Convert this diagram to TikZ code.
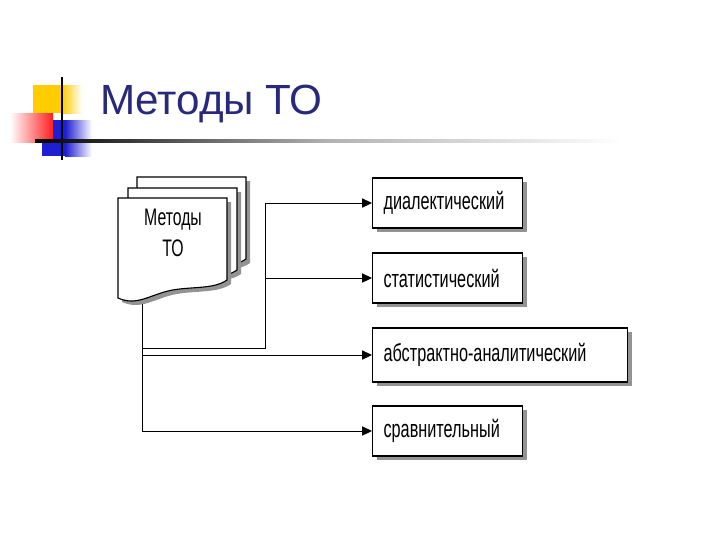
\documentclass[tikz,border=0pt]{standalone}
\usepackage{fontspec}
\setmainfont{Liberation Sans}
\newfontfamily\narrowfont{Liberation Sans}[FakeStretch=0.66]
\usetikzlibrary{arrows.meta,shadows}

\definecolor{titleblue}{RGB}{40,40,125}
\definecolor{mkyellow}{RGB}{255,204,0}
\definecolor{mkred}{RGB}{255,30,30}
\definecolor{mkblue}{RGB}{30,30,210}

\tikzset{
  grayshadow/.style={drop shadow={shadow xshift=0.1cm, shadow yshift=-0.1cm, fill=gray!85, opacity=1}},
  methodbox/.style={draw, line width=0.8pt, fill=white, anchor=west, inner xsep=0.275cm, inner ysep=0pt,
    minimum height=1.25cm, text width=#1, align=left, font=\narrowfont\fontsize{17.5}{20}\selectfont, grayshadow},
  page/.style={draw, line width=0.8pt, fill=white, grayshadow},
  link/.style={line width=0.7pt, -{Triangle[length=7pt, width=6.5pt]}}
}

\begin{document}
\begin{tikzpicture}[x=0.025cm, y=-0.025cm]
                    \useasboundingbox (0,0) rectangle (720,540);
                    % Title marks
                    \fill[mkyellow] (33,85) rectangle (62,113);
                    \shade[left color=mkyellow, right color=white] (62,85) rectangle (82,113);
                    \fill[mkblue] (42,120) rectangle (65,156);
                    \shade[left color=mkblue, right color=white] (65,120) rectangle (92,156);
                    \shade[left color=white, right color=mkred] (10,113) rectangle (53,142);
                    \draw[line width=1.5pt] (62,77) -- (62,160);
                    \shade[left color=black, right color=gray!60] (35,139.5) rectangle (330,142.5);
                    \shade[left color=gray!60, right color=white] (330,139.5) rectangle (623,142.5);
                    \node[anchor=base west, inner sep=0pt, text=titleblue, font=\fontsize{30}{34}\selectfont] (title) at (100,114) {Методы ТО};
                    % Pages
                    \foreach \dx/\dy in {19/21, 10/10, 0/0}
                      \path[page, shift={(118+\dx,198-\dy)}] (0,0) -- (109,0) -- (109,82)
                        .. controls (95,92) and (70,88) .. (50,93)
                        .. controls (30,98) and (18,108) .. (0,100) -- cycle;
                    % Nodes
                    \node[align=center, font=\narrowfont\fontsize{17}{21.5}\selectfont] (doc) at (173,233) {Методы\\ТО};
                    \node[methodbox=3.2cm] (dial) at (372,203) {диалектический};
                    \node[methodbox=3.2cm] (stat) at (372,278) {статистический};
                    \node[methodbox=5.825cm, minimum height=1.35cm] (abstr) at (372,355) {абстрактно-аналитический};
                    \node[methodbox=3.2cm] (comp) at (372,431) {сравнительный};
                    \coordinate (docbot) at (142,304);
                    \coordinate (j1) at (142,348);
                    \coordinate (j2) at (265,348);
                    \coordinate (j3) at (142,355);
                    % Edges
                    \draw[link] (docbot) |- (comp.west);
                    \draw[link] (j3) -- (abstr.west);
                    \draw[link] (j1) -- (j2) |- (dial.west);
                    \draw[link] (j2 |- stat.west) -- (stat.west);
                \end{tikzpicture}
\end{document}
